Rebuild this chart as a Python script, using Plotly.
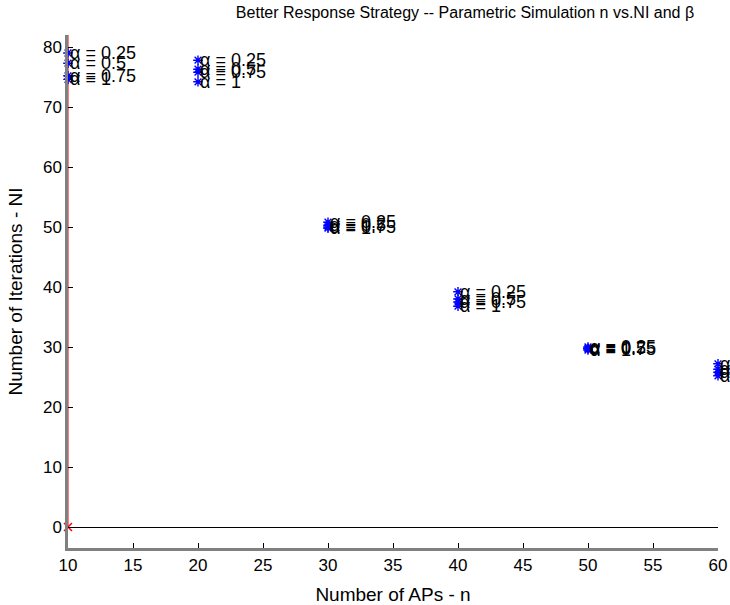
import plotly.graph_objects as go

# Number of access points (APs) tested
n_values = [10, 20, 30, 40, 50, 60]

# Learning-rate settings and iterations to convergence for each n
alphas = [0.25, 0.5, 0.75, 1]
ni_alpha_025 = [79.0, 77.8, 50.8, 39.2, 30.0, 27.2]
ni_alpha_05 = [77.3, 76.3, 50.3, 38.0, 29.8, 26.3]
ni_alpha_075 = [75.2, 75.8, 50.0, 37.5, 29.7, 25.8]
ni_alpha_1 = [74.6, 74.2, 49.8, 36.8, 29.5, 25.2]
ni_by_alpha = [ni_alpha_025, ni_alpha_05, ni_alpha_075, ni_alpha_1]

# Reference line at the smallest n
base_n = [10, 10]
base_ni = [0, 82]

x_ticks = [10, 15, 20, 25, 30, 35, 40, 45, 50, 55, 60]
y_ticks = [0, 10, 20, 30, 40, 50, 60, 70, 80]

FONT = "Liberation Sans, Arial, sans-serif"

fig = go.Figure()

fig.add_trace(go.Scatter(
    x=base_n, y=base_ni, mode="lines",
    line=dict(color="red", width=1), showlegend=False, hoverinfo="skip",
))
fig.add_trace(go.Scatter(
    x=base_n[:1], y=base_ni[:1], mode="markers",
    marker=dict(symbol="x-thin-open", size=8, color="red",
                line=dict(color="red", width=1.5)),
    showlegend=False, cliponaxis=False,
))

annotations = []
for a, ni in zip(alphas, ni_by_alpha):
    fig.add_trace(go.Scatter(
        x=n_values, y=ni, mode="markers",
        marker=dict(symbol="asterisk-open", size=8, color="blue",
                    line=dict(color="blue", width=1.4)),
        showlegend=False, cliponaxis=False,
    ))
    for n, v in zip(n_values, ni):
        annotations.append(dict(
            x=n, y=v, xref="x", yref="y", text=f"α = {a:g}",
            showarrow=False, xanchor="left", yanchor="middle",
            font=dict(family=FONT, size=18, color="black"),
        ))

fig.update_layout(
    width=730, height=605,
    margin=dict(l=68, r=12, t=35, b=57, autoexpand=False),
    paper_bgcolor="white", plot_bgcolor="white",
    font=dict(family=FONT, size=15, color="black"),
    title=dict(
        text="Better Response Strategy -- Parametric Simulation n vs.NI and β",
        x=0.637, xref="container", xanchor="center",
        y=0.98, yanchor="middle",
        font=dict(family=FONT, size=16, color="black"),
    ),
    annotations=annotations,
    showlegend=False,
)

fig.update_xaxes(
    range=[10, 60], tickvals=x_ticks, ticktext=[str(t) for t in x_ticks],
    showgrid=False, zeroline=False, automargin=False,
    showline=True, linecolor="#808080", linewidth=2.5,
    ticks="inside", ticklen=5, tickcolor="black", tickwidth=1,
    tickfont=dict(family=FONT, size=17),
    title=dict(text="Number of APs - n", font=dict(family=FONT, size=19), standoff=14),
)
fig.update_yaxes(
    range=[-3.5, 82], tickvals=y_ticks, ticktext=[str(t) for t in y_ticks],
    showgrid=False, zeroline=True, zerolinecolor="black", zerolinewidth=1,
    automargin=False,
    showline=True, linecolor="#808080", linewidth=2.5,
    ticks="inside", ticklen=5, tickcolor="black", tickwidth=1,
    tickfont=dict(family=FONT, size=17),
    title=dict(text="Number of Iterations - NI", font=dict(family=FONT, size=19), standoff=16),
)

fig.write_html("out.html")
